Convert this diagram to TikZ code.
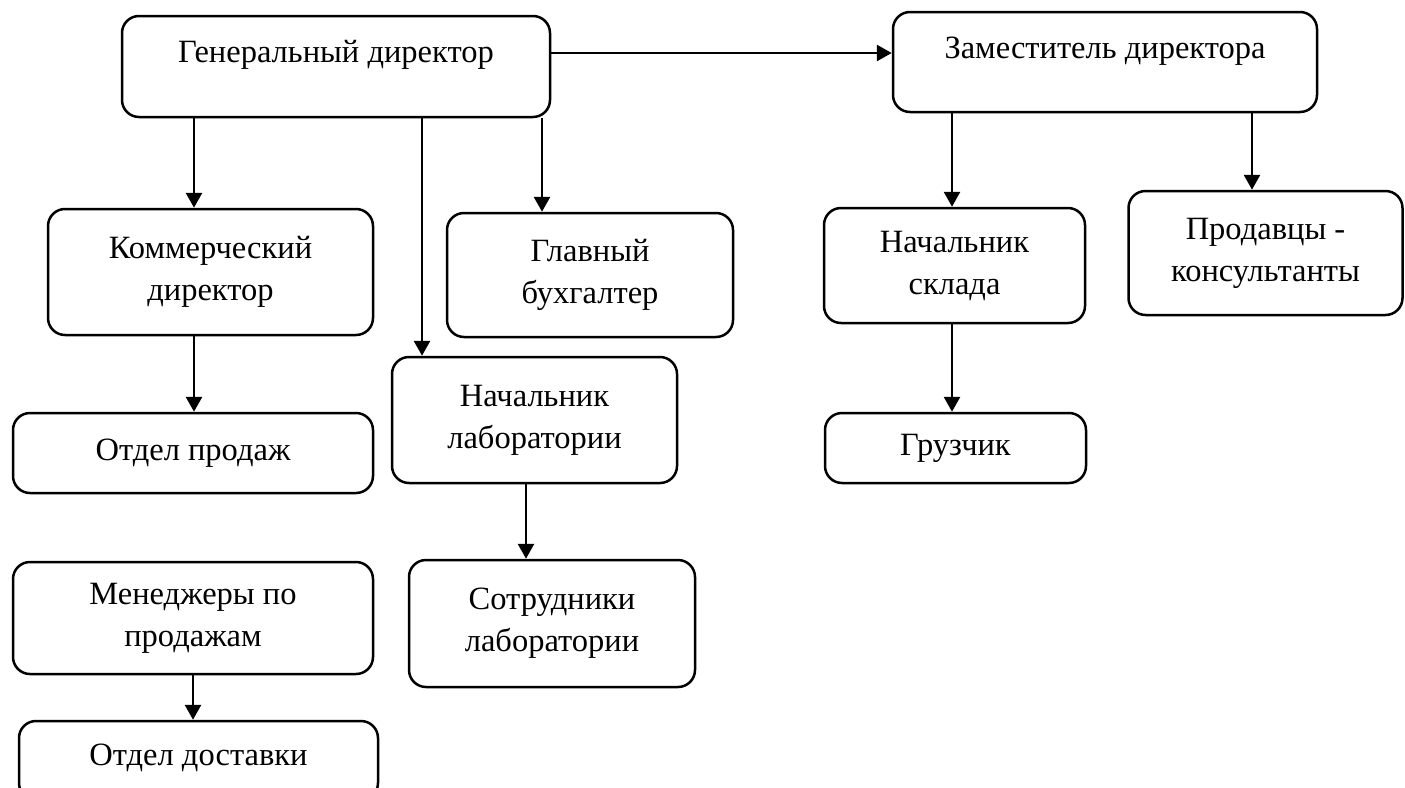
\documentclass[tikz,border=0pt]{standalone}
\usepackage{fontspec}
\setmainfont{Liberation Serif}
\usetikzlibrary{arrows.meta}
\begin{document}
\begin{tikzpicture}[x=1pt,y=-1pt,
  box/.style={draw=black, line width=2.5pt, rounded corners=17pt, align=center,
    font=\fontsize{32.5}{42}\selectfont, inner sep=2pt},
  arr/.style={-{Triangle[length=15pt,width=16pt]}, line width=2.8pt}]
\clip (0,0) rectangle (1405,787);
\fill[white] (0,0) rectangle (1405,787);

\node[box, minimum width=428, minimum height=101, text depth=31pt] (gen) at (336,66.5) {Генеральный директор};
\node[box, minimum width=424, minimum height=100, text depth=29pt] (zam) at (1105,62) {Заместитель директора};
\node[box, minimum width=325, minimum height=126] (komm) at (210.5,272) {Коммерческий\\директор};
\node[box, minimum width=286, minimum height=124] (glav) at (590,275) {Главный\\бухгалтер};
\node[box, minimum width=285, minimum height=126] (nachlab) at (534.5,420) {Начальник\\лаборатории};
\node[box, minimum width=360, minimum height=80] (otdprod) at (193,453) {Отдел продаж};
\node[box, minimum width=360, minimum height=112] (menedz) at (193,618) {Менеджеры по\\продажам};
\node[box, minimum width=359, minimum height=79, text depth=12pt] (otddost) at (198.5,760.5) {Отдел доставки};
\node[box, minimum width=286, minimum height=127] (sotr) at (552,623.5) {Сотрудники\\лаборатории};
\node[box, minimum width=261, minimum height=115] (nachskl) at (954.5,265.5) {Начальник\\склада};
\node[box, minimum width=274, minimum height=124] (prod) at (1265.5,253) {Продавцы -\\консультанты};
\node[box, minimum width=261, minimum height=70] (gruz) at (955.5,448) {Грузчик};

\draw[arr] (gen.east |- 0,53) -- (zam.west |- 0,53);
\draw[arr] (gen.south -| 194,0) -- (komm.north -| 194,0);
\draw[arr] (gen.south -| 422,0) -- (nachlab.north -| 422,0);
\draw[arr] (gen.south -| 542,0) -- (glav.north -| 542,0);
\draw[arr] (komm.south -| 194,0) -- (otdprod.north -| 194,0);
\draw[arr] (nachlab.south -| 526,0) -- (sotr.north -| 526,0);
\draw[arr] (zam.south -| 952,0) -- (nachskl.north -| 952,0);
\draw[arr] (zam.south -| 1252,0) -- (prod.north -| 1252,0);
\draw[arr] (nachskl.south -| 952,0) -- (gruz.north -| 952,0);
\draw[arr] (menedz.south -| 193,0) -- (otddost.north -| 193,0);
\end{tikzpicture}
\end{document}
